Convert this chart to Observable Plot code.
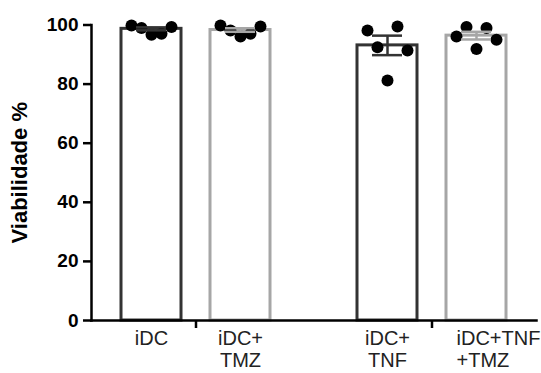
<!DOCTYPE html>
<html>
<head>
<meta charset="utf-8">
<script src="https://cdn.jsdelivr.net/npm/d3@7"></script>
<script src="https://cdn.jsdelivr.net/npm/@observablehq/plot@0.6"></script>
<style>
  html, body { margin: 0; padding: 0; background: #fff; }
  #chart svg { font-family: "Liberation Sans", Arial, sans-serif; }
  g[aria-label="y-axis tick label"] { font-size: 19px; font-weight: bold; fill: #000; }
  g[aria-label="y-axis label"] { font-size: 22px; font-weight: bold; fill: #000; }
</style>
</head>
<body>
<div id="chart"></div>
<script>
// ---- data ----
const categories = ["iDC", "iDC+TMZ", "iDC+TNF", "iDC+TNF+TMZ"];
const tickLabels = ["iDC", "iDC+\nTMZ", "iDC+\nTNF", "iDC+TNF\n+TMZ"];
const groups = ["iDC", "iDC", "iDC+TNF", "iDC+TNF"];
const treatments = ["controle", "TMZ", "controle", "TMZ"];
const means = [98.7, 98.3, 93.1, 96.4];
const sems = [0.5, 0.6, 3.3, 1.3];
const replicates = [
  [99.8, 99.0, 96.7, 97.0, 99.3],
  [99.8, 98.1, 96.1, 97.0, 99.5],
  [98.1, 92.5, 81.2, 99.5, 91.4],
  [96.1, 99.3, 91.9, 99.0, 95.0]
];
const yTicks = [0, 20, 40, 60, 80, 100];

// ---- tables ----
const bars = categories.map((c, i) => ({
  category: c, label: tickLabels[i], group: groups[i], treatment: treatments[i],
  mean: means[i], sem: sems[i]
}));
const points = categories.flatMap((c, i) => replicates[i].map((v, j) => ({
  category: c, group: groups[i], treatment: treatments[i], value: v, order: j
})));

const dark = "#333333", gray = "#a6a6a6";
const spread = 10;

const dotMarks = [0, 1, 2, 3, 4].map(j =>
  Plot.dot(points.filter(d => d.order === j), {
    fx: "group", x: "treatment", y: "value",
    r: 6, fill: "#000", stroke: "none", dx: (j - 2) * spread
  })
);

const labelStyle = {
  fx: "group", x: "treatment", text: "label",
  frameAnchor: "bottom", lineAnchor: "top", dy: 9, lineHeight: 1.1,
  fontSize: 20, fill: "#222", fontFamily: "Liberation Sans, Arial, sans-serif"
};

const chart = Plot.plot({
  width: 541,
  height: 373,
  marginLeft: 91,
  marginRight: 4.5,
  marginTop: 24.5,
  marginBottom: 53,
  fx: { domain: ["iDC", "iDC+TNF"], paddingInner: 0.1163, paddingOuter: 0, label: null, axis: null },
  x: { domain: ["controle", "TMZ"], paddingInner: 0.3258, paddingOuter: 0.337, axis: null },
  y: { domain: [0, 100], axis: null },
  color: { domain: ["controle", "TMZ"], range: [dark, gray] },
  marks: [
    Plot.barY(bars, {
      fx: "group", x: "treatment", y: "mean",
      fill: "white", stroke: "treatment", strokeWidth: 3
    }),
    ...dotMarks,
    Plot.ruleX(bars, {
      fx: "group", x: "treatment", y1: d => d.mean - d.sem, y2: d => d.mean + d.sem,
      stroke: "treatment", strokeWidth: 2.5
    }),
    Plot.tickY(bars, {
      fx: "group", x: "treatment", y: d => d.mean - d.sem,
      stroke: "treatment", strokeWidth: 2.5, insetLeft: 15, insetRight: 15
    }),
    Plot.tickY(bars, {
      fx: "group", x: "treatment", y: d => d.mean + d.sem,
      stroke: "treatment", strokeWidth: 2.5, insetLeft: 15, insetRight: 15
    }),
    Plot.text(bars.filter(d => d.category !== "iDC+TNF+TMZ"), labelStyle),
    Plot.text(bars.filter(d => d.category === "iDC+TNF+TMZ"), {
      ...labelStyle, dx: -20, textAnchor: "start"
    }),
    Plot.axisY({
      ticks: yTicks, tickSize: 8, tickPadding: 5, strokeWidth: 2.5, stroke: "#000",
      label: "Viabilidade %", labelAnchor: "center", labelOffset: 80, labelArrow: "none"
    }),
    Plot.axisFx({
      anchor: "bottom", tickSize: 8, strokeWidth: 2.5, stroke: "#000",
      tickFormat: () => "", label: null
    }),
    Plot.frame({ anchor: "left", facet: "super", stroke: "#000", strokeWidth: 2.5 }),
    Plot.frame({ anchor: "bottom", facet: "super", stroke: "#000", strokeWidth: 2.5 })
  ]
});
document.getElementById("chart").appendChild(chart);
</script>
</body>
</html>
